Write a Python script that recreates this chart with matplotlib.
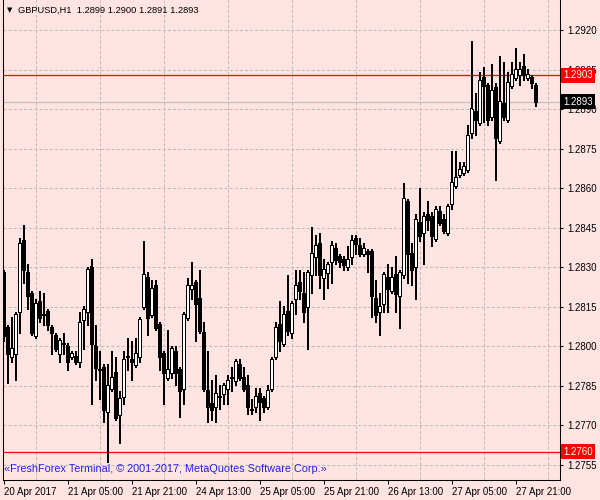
import matplotlib
matplotlib.use("Agg")
import matplotlib.pyplot as plt
import matplotlib.transforms as mtransforms

plt.rcParams['font.family'] = ['Liberation Sans', 'DejaVu Sans']
plt.rcParams['lines.scale_dashes'] = False

# GBPUSD H1, one row per bar: open, high, low, close
opens = [1.2828, 1.2807, 1.2796, 1.2797, 1.2813, 1.2840, 1.2828, 1.2820, 1.2804, 1.2817,
         1.2812, 1.2813, 1.2807, 1.2804, 1.2797, 1.2801, 1.2800, 1.2796, 1.2796, 1.2794,
         1.2810, 1.2813, 1.2830, 1.2800, 1.2791, 1.2792, 1.2775, 1.2784, 1.2790, 1.2774,
         1.2781, 1.2796, 1.2795, 1.2793, 1.2796, 1.2815, 1.2826, 1.2812, 1.2823, 1.2808,
         1.2797, 1.2788, 1.2790, 1.2798, 1.2791, 1.2784, 1.2811, 1.2822, 1.2824, 1.2818,
         1.2805, 1.2783, 1.2778, 1.2777, 1.2781, 1.2782, 1.2784, 1.2788, 1.2787, 1.2793,
         1.2788, 1.2785, 1.2776, 1.2777, 1.2782, 1.2780, 1.2777, 1.2784, 1.2796, 1.2808,
         1.2801, 1.2813, 1.2805, 1.2818, 1.2824, 1.2820, 1.2815, 1.2827, 1.2834, 1.2839,
         1.2826, 1.2828, 1.2832, 1.2837, 1.2834, 1.2833, 1.2830, 1.2834, 1.2841, 1.2838,
         1.2835, 1.2836, 1.2836, 1.2818, 1.2813, 1.2816, 1.2826, 1.2821, 1.2827, 1.2819,
         1.2827, 1.2855, 1.2835, 1.2830, 1.2847, 1.2843, 1.2850, 1.2849, 1.2841, 1.2851,
         1.2848, 1.2843, 1.2854, 1.2861, 1.2865, 1.2866, 1.2867, 1.2881, 1.2889, 1.2885,
         1.2902, 1.2899, 1.2887, 1.2898, 1.2878, 1.2892, 1.2886, 1.2899, 1.2902, 1.2903,
         1.2906, 1.2902, 1.2902, 1.2899]
highs = [1.2829, 1.2808, 1.2811, 1.2813, 1.2841, 1.2846, 1.2831, 1.2821, 1.2818, 1.2821,
         1.2820, 1.2814, 1.2808, 1.2805, 1.2803, 1.2805, 1.2801, 1.2798, 1.2798, 1.2813,
         1.2815, 1.2830, 1.2833, 1.2808, 1.2798, 1.2793, 1.2793, 1.2798, 1.2796, 1.2783,
         1.2798, 1.2803, 1.2802, 1.2803, 1.2811, 1.2840, 1.2828, 1.2825, 1.2825, 1.2809,
         1.2798, 1.2806, 1.2800, 1.2800, 1.2792, 1.2813, 1.2826, 1.2832, 1.2825, 1.2829,
         1.2809, 1.2798, 1.2787, 1.2789, 1.2785, 1.2786, 1.2789, 1.2792, 1.2795, 1.2795,
         1.2792, 1.2789, 1.2780, 1.2784, 1.2784, 1.2781, 1.2785, 1.2796, 1.2809, 1.2817,
         1.2815, 1.2827, 1.2817, 1.2829, 1.2829, 1.2828, 1.2829, 1.2845, 1.2842, 1.2843,
         1.2833, 1.2832, 1.2840, 1.2839, 1.2835, 1.2834, 1.2838, 1.2842, 1.2842, 1.2841,
         1.2839, 1.2837, 1.2837, 1.2825, 1.2820, 1.2828, 1.2831, 1.2830, 1.2834, 1.2829,
         1.2862, 1.2856, 1.2839, 1.2850, 1.2860, 1.2851, 1.2855, 1.2851, 1.2853, 1.2853,
         1.2850, 1.2854, 1.2874, 1.2874, 1.2870, 1.2870, 1.2884, 1.2916, 1.2896, 1.2904,
         1.2906, 1.2900, 1.2907, 1.2900, 1.2910, 1.2908, 1.2904, 1.2908, 1.2913, 1.2908,
         1.2911, 1.2905, 1.2903, 1.2900]
lows = [1.2802, 1.2786, 1.2794, 1.2787, 1.2805, 1.2824, 1.2814, 1.2804, 1.2803, 1.2809,
        1.2808, 1.2806, 1.2797, 1.2798, 1.2794, 1.2797, 1.2791, 1.2795, 1.2793, 1.2792,
        1.2799, 1.2808, 1.2778, 1.2787, 1.2780, 1.2771, 1.2756, 1.2783, 1.2772, 1.2763,
        1.2778, 1.2791, 1.2787, 1.2792, 1.2794, 1.2814, 1.2804, 1.2811, 1.2806, 1.2791,
        1.2778, 1.2787, 1.2788, 1.2785, 1.2773, 1.2778, 1.2810, 1.2818, 1.2802, 1.2805,
        1.2783, 1.2771, 1.2772, 1.2771, 1.2776, 1.2778, 1.2778, 1.2783, 1.2785, 1.2787,
        1.2783, 1.2774, 1.2774, 1.2775, 1.2772, 1.2775, 1.2776, 1.2783, 1.2795, 1.2798,
        1.2800, 1.2804, 1.2803, 1.2812, 1.2818, 1.2809, 1.2799, 1.2820, 1.2827, 1.2822,
        1.2818, 1.2822, 1.2824, 1.2831, 1.2830, 1.2829, 1.2829, 1.2831, 1.2835, 1.2834,
        1.2834, 1.2828, 1.2811, 1.2809, 1.2804, 1.2813, 1.2813, 1.2820, 1.2813, 1.2807,
        1.2826, 1.2824, 1.2823, 1.2818, 1.2840, 1.2831, 1.2844, 1.2838, 1.2840, 1.2846,
        1.2843, 1.2842, 1.2852, 1.2860, 1.2864, 1.2865, 1.2866, 1.2879, 1.2880, 1.2884,
        1.2885, 1.2884, 1.2886, 1.2863, 1.2877, 1.2886, 1.2885, 1.2898, 1.2901, 1.2899,
        1.2901, 1.2901, 1.2898, 1.2891]
closes = [1.2804, 1.2797, 1.2799, 1.2812, 1.2839, 1.2829, 1.2819, 1.2805, 1.2816, 1.2811,
          1.2812, 1.2808, 1.2805, 1.2799, 1.2802, 1.2801, 1.2794, 1.2797, 1.2794, 1.2809,
          1.2814, 1.2829, 1.2801, 1.2792, 1.2791, 1.2776, 1.2785, 1.2788, 1.2773, 1.2780,
          1.2795, 1.2796, 1.2794, 1.2797, 1.2810, 1.2827, 1.2811, 1.2822, 1.2807, 1.2796,
          1.2790, 1.2791, 1.2799, 1.2790, 1.2783, 1.2812, 1.2823, 1.2823, 1.2816, 1.2806,
          1.2784, 1.2777, 1.2776, 1.2782, 1.2781, 1.2785, 1.2787, 1.2788, 1.2794, 1.2788,
          1.2784, 1.2777, 1.2776, 1.2781, 1.2779, 1.2777, 1.2783, 1.2795, 1.2807, 1.2802,
          1.2812, 1.2806, 1.2816, 1.2823, 1.2821, 1.2813, 1.2828, 1.2835, 1.2838, 1.2827,
          1.2829, 1.2831, 1.2838, 1.2833, 1.2832, 1.2831, 1.2833, 1.2840, 1.2839, 1.2835,
          1.2837, 1.2835, 1.2819, 1.2812, 1.2815, 1.2827, 1.2822, 1.2826, 1.2820, 1.2828,
          1.2856, 1.2835, 1.2829, 1.2848, 1.2842, 1.2849, 1.2848, 1.2842, 1.2852, 1.2847,
          1.2844, 1.2853, 1.2862, 1.2864, 1.2867, 1.2868, 1.2880, 1.2890, 1.2886, 1.2901,
          1.2899, 1.2886, 1.2897, 1.2879, 1.2893, 1.2887, 1.2900, 1.2903, 1.2905, 1.2905,
          1.2903, 1.2903, 1.2900, 1.2893]

time_labels = ["20 Apr 2017", "21 Apr 05:00", "21 Apr 21:00", "24 Apr 13:00",
               "25 Apr 05:00", "25 Apr 21:00", "26 Apr 13:00", "27 Apr 05:00",
               "27 Apr 21:00"]
label_step = 16          # one label every 16 hourly bars
price_ticks = [1.2755, 1.2770, 1.2785, 1.2800, 1.2815, 1.2830,
               1.2845, 1.2860, 1.2875, 1.2890, 1.2905, 1.2920]
level_lines = [1.2903, 1.2760]   # red horizontal lines
bid = 1.2893

bg = '#FFE4E1'
fig = plt.figure(figsize=(6, 5), dpi=100, facecolor=bg)
ax = fig.add_axes([2.7 / 600, 20 / 500, 557.3 / 600, 480 / 500], facecolor=bg)

ymin, ymax = 1.27493, 1.293158
onepx = (ymax - ymin) / 480.0   # price span of one screen pixel

n = len(opens)
xs = list(range(n))

# wicks
ax.vlines(xs, lows, highs, color='black', linewidth=0.72, zorder=3,
          antialiased=False, snap=False)

# bodies: black block, hollow (white inside) when the bar closed up
bot, hgt = [], []
for o, c in zip(opens, closes):
    bot.append(min(o, c) - onepx * 0.5)
    hgt.append(abs(c - o) + onepx)
ax.bar(xs, hgt, bottom=bot, width=0.75, color='black', linewidth=0,
       zorder=4, antialiased=False, snap=False)

up_x, up_b, up_h = [], [], []
for i, (o, c) in enumerate(zip(opens, closes)):
    if c - o > 2.2 * onepx:
        up_x.append(i)
        up_b.append(o + onepx * 0.5)
        up_h.append(c - o - onepx)
ax.bar(up_x, up_h, bottom=up_b, width=0.25, color='white', linewidth=0,
       zorder=5, antialiased=False, snap=False)

ax.set_xlim(-0.25, 139.075)
ax.set_ylim(ymin, ymax)

# x axis: labels every 16 bars, grid halfway between
ax.set_xticks([i * label_step for i in range(len(time_labels))])
ax.set_xticklabels(time_labels, ha='left')
ax.set_xticks([8 + i * label_step for i in range(len(time_labels))], minor=True)
ax.tick_params(axis='x', which='major', length=3, width=0.75, pad=2, labelsize=7)
ax.tick_params(axis='x', which='minor', length=0)

ax.yaxis.tick_right()
ax.set_yticks(price_ticks)
ax.set_yticklabels(['%.4f' % p for p in price_ticks])
ax.tick_params(axis='y', length=2.5, width=0.75, pad=3, labelsize=7)

ax.grid(axis='y', which='major', color='#BDBDBD', linestyle=(0, (2.2, 1.5)), linewidth=0.75)
ax.grid(axis='x', which='minor', color='#BDBDBD', linestyle=(0, (2.2, 1.5)), linewidth=0.75)
ax.grid(axis='x', which='major', visible=False)
ax.set_axisbelow(True)

for s in ['left', 'bottom', 'right']:
    ax.spines[s].set_linewidth(0.75)
    ax.spines[s].set_color('black')
ax.spines['top'].set_visible(False)

# horizontal levels
for lv in level_lines:
    ax.axhline(lv, color='red', linewidth=0.9, zorder=2)
ax.axhline(bid, color='#C0C0C0', linewidth=0.9, zorder=2)

trans = mtransforms.blended_transform_factory(ax.transAxes, ax.transData)
for lv in level_lines:
    ax.text(1.006, lv, '%.4f' % lv, transform=trans, color='white', fontsize=7,
            va='center', ha='left', zorder=10, clip_on=False,
            bbox=dict(boxstyle='square,pad=0.25', fc='red', ec='none'))
ax.text(1.006, bid, '%.4f' % bid, transform=trans, color='white', fontsize=7,
        va='center', ha='left', zorder=10, clip_on=False,
        bbox=dict(boxstyle='square,pad=0.25', fc='black', ec='none'))

# header and watermark
fig.text(7 / 600, 1 - 10 / 500, '\u25BC', fontsize=5, va='center', family='DejaVu Sans')
fig.text(18 / 600, 1 - 10 / 500, 'GBPUSD,H1  %.4f %.4f %.4f %.4f' % (opens[-1], highs[-1], lows[-1], closes[-1]),
         fontsize=6.7, va='center')
fig.text(4 / 600, 1 - 469 / 500,
         '\u00abFreshForex Terminal, \u00a9 2001-2017, MetaQuotes Software Corp.\u00bb',
         fontsize=7.8, color='#2323E6', va='center')

fig.savefig('out.png', dpi=100, facecolor=bg)
